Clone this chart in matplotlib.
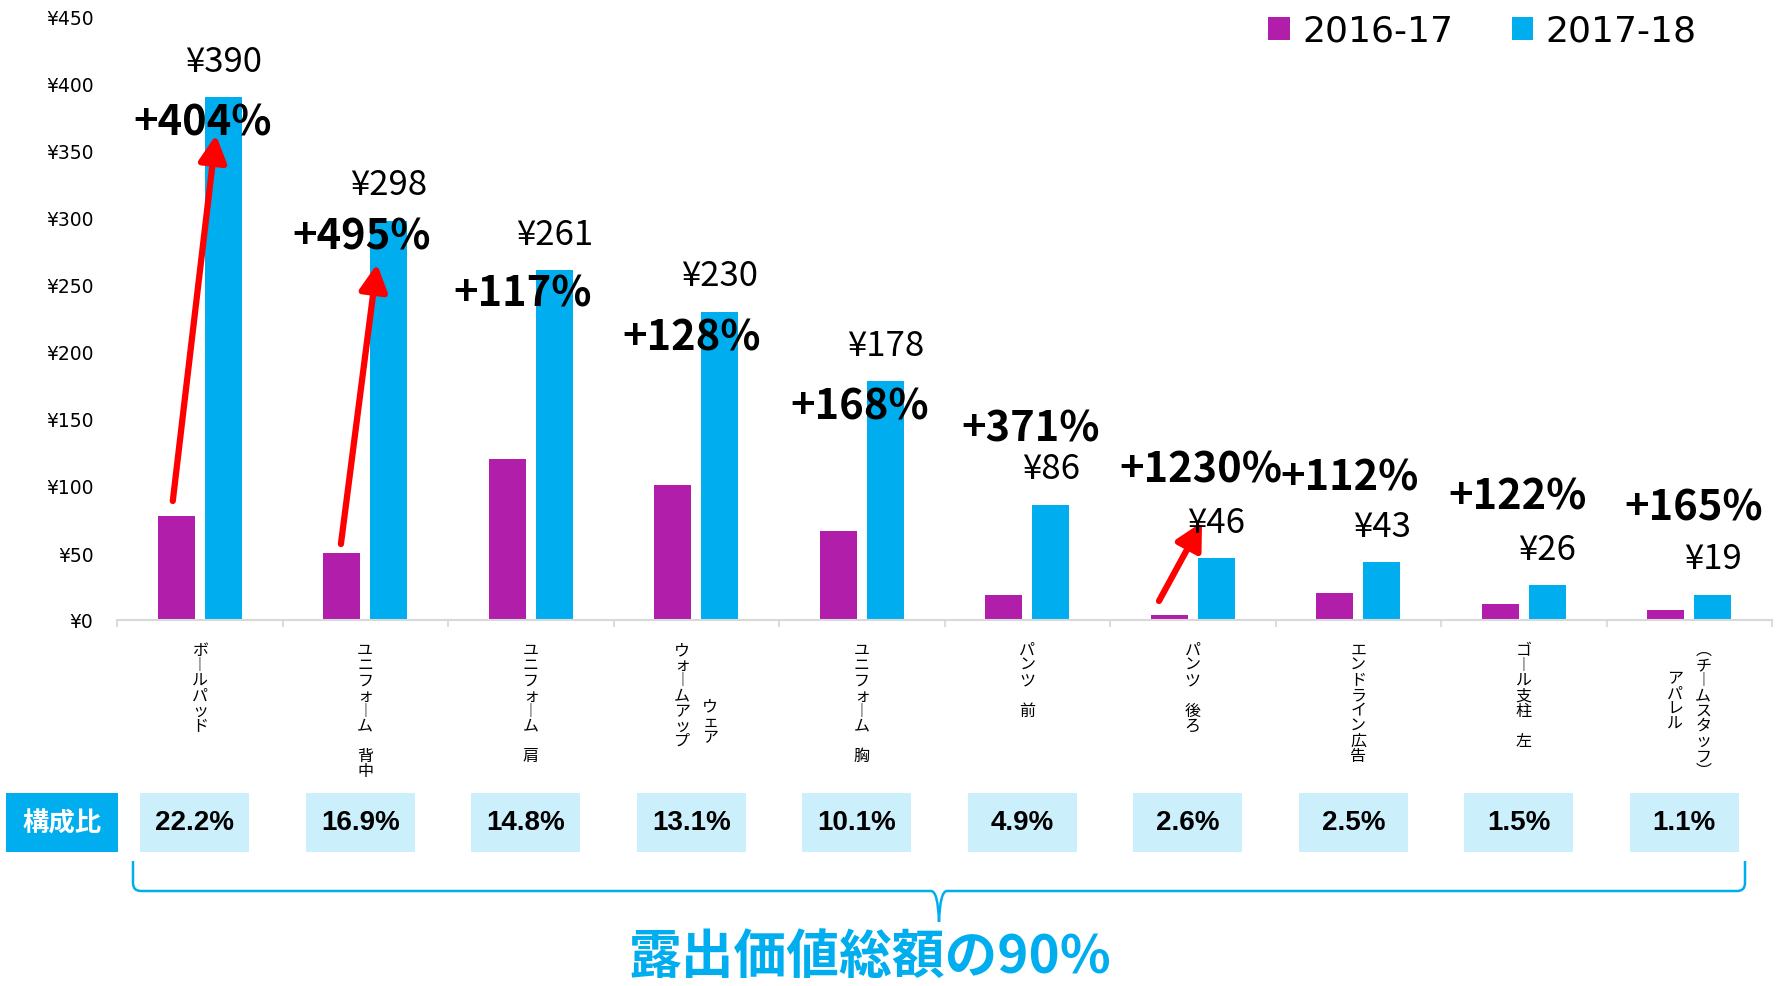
import numpy as np
import matplotlib
matplotlib.use("Agg")
import matplotlib.pyplot as plt
from matplotlib.patches import Rectangle, FancyArrowPatch, PathPatch
from matplotlib.path import Path
from matplotlib.ticker import StrMethodFormatter
from matplotlib.transforms import blended_transform_factory

plt.rcParams['font.family'] = ['Noto Sans CJK JP', 'DejaVu Sans']

# data
categories = ["ボールパッド", "ユニフォーム　背中", "ユニフォーム　肩", "ウォームアップ\nウェア",
              "ユニフォーム　胸", "パンツ　前", "パンツ　後ろ", "エンドライン広告",
              "ゴール支柱　左", "アパレル\n(チームスタッフ)"]
series = ["2016-17", "2017-18"]
value_1617 = [77.4, 50.1, 120.3, 100.9, 66.4, 18.3, 3.5, 20.3, 11.7, 7.2]
value_1718 = [390, 298, 261, 230, 178, 86, 46, 43, 26, 19]
growth = ["+404%", "+495%", "+117%", "+128%", "+168%", "+371%",
          "+1230%", "+112%", "+122%", "+165%"]
share = ["22.2%", "16.9%", "14.8%", "13.1%", "10.1%", "4.9%", "2.6%", "2.5%", "1.5%", "1.1%"]
share_title = "構成比"
footer = "露出価値総額の90%"

# layout
growth_y = [371, 286, 244, 211, 159, 143, 112, 106.5, 92, 83.6]
growth_dx = [0.015, -0.024, -0.05, -0.027, -0.011, 0.019, 0.049, -0.052, -0.037, 0.027]
arrows = [((-0.163, 88.8), (0.098, 362)),
          ((0.853, 56.7), (1.071, 265.7)),
          ((5.796, 14.2), (6.056, 73.1))]
col_skip = {3: [0, 4], 9: [2, 0]}

C1 = "#B01EAA"
C2 = "#00AEEF"
W, H = 1781, 987

fig = plt.figure(figsize=(W / 100, H / 100), dpi=100)
ax = fig.add_axes([117 / W, 1 - 621 / H, (1772 - 117) / W, (621 - 18) / H])

x = np.arange(len(categories))
bw = 0.224
b1 = ax.bar(x - 0.142, value_1617, bw, color=C1, label=series[0])
b2 = ax.bar(x + 0.142, value_1718, bw, color=C2, label=series[1])

ax.set_xlim(-0.5, len(categories) - 0.5)
ax.set_ylim(0, 450)
ax.set_yticks(np.arange(0, 451, 50))
ax.yaxis.set_major_formatter(StrMethodFormatter("¥{x:.0f}"))
ax.tick_params(axis='y', length=0, pad=17, labelsize=13.5)
for lb in ax.get_yticklabels():
    lb.set_family('DejaVu Sans')
ax.set_xticks(x)
ax.set_xticklabels([])
ax.tick_params(axis='x', which='major', length=0)
ax.set_xticks(np.arange(-0.5, len(categories)), minor=True)
ax.tick_params(axis='x', which='minor', length=5, width=1.3, color="#D9D9D9")
for s in ['left', 'top', 'right']:
    ax.spines[s].set_visible(False)
ax.spines['bottom'].set_color("#D9D9D9")
ax.spines['bottom'].set_linewidth(1.5)

# value labels above 2017-18 bars
for xi, v in zip(x, value_1718):
    ax.annotate(f"¥{v}", (xi + 0.142, v), xytext=(0, 26), textcoords='offset points',
                ha='center', va='center', fontsize=25)

# growth labels
for xi, g, gy, dx in zip(x, growth, growth_y, growth_dx):
    ax.text(xi + dx, gy, g, ha='center', va='center', fontsize=30, fontweight='bold')

for (x0, y0), (x1, y1) in arrows:
    ax.add_patch(FancyArrowPatch((x0, y0), (x1, y1), arrowstyle='-|>,head_length=0.8,head_width=0.42',
                                 mutation_scale=20, color='#FF0000', lw=4.5, shrinkA=0, shrinkB=0))

# vertical category labels
vert = {"ー": "︱", "(": "︵", ")": "︶"}
for i, lab in enumerate(categories):
    cols = lab.split("\n")
    offs = [0] if len(cols) == 1 else [-14, 14]
    skips = col_skip.get(i, [0] * len(cols))
    for col, dx, sk in zip(cols, offs, skips):
        txt = "\n".join(vert.get(c, c) for c in col)
        ax.annotate(txt, (i, 0), xytext=(dx * 0.72, -(21 + sk * 14.2) * 0.72),
                    textcoords='offset points', ha='center', va='top',
                    fontsize=11.5, linespacing=0.86, annotation_clip=False)

ax.legend(handles=[b1, b2], labels=series, ncol=2, frameon=False, loc='center right',
          bbox_to_anchor=(1697 / W, 1 - 32 / H), bbox_transform=fig.transFigure,
          prop={'family': 'DejaVu Sans', 'size': 26}, handlelength=0.6, handleheight=0.6,
          handletextpad=0.35, columnspacing=1.6, borderpad=0, borderaxespad=0)

# share row
tr = blended_transform_factory(ax.transData, fig.transFigure)
yb, hb = 1 - 853 / H, 59 / H
fig.patches.append(Rectangle((6 / W, yb), 112 / W, hb, transform=fig.transFigure,
                             color=C2, lw=0))
fig.text(62 / W, yb + hb / 2, share_title, color='white', fontsize=19, fontweight='bold',
         ha='center', va='center')
for xi, s in zip(x, share):
    ax.add_patch(Rectangle((xi - 0.03 - 0.33, yb), 0.66, hb, transform=tr,
                           color="#CCEFFC", lw=0, clip_on=False))
    ax.text(xi - 0.03, yb + hb / 2, s, transform=tr, ha='center', va='center',
            fontsize=20, fontweight='bold', family='Liberation Sans')

# brace
def fp(px, py):
    return (px / W, 1 - py / H)

verts = [fp(133, 862), fp(133, 884), fp(133, 892), fp(141, 892), fp(931, 892),
         fp(938, 892), fp(939, 923), fp(940, 892), fp(947, 892), fp(1737, 892),
         fp(1745, 892), fp(1745, 884), fp(1745, 862)]
codes = [Path.MOVETO, Path.LINETO, Path.CURVE3, Path.CURVE3, Path.LINETO,
         Path.CURVE3, Path.CURVE3, Path.CURVE3, Path.CURVE3, Path.LINETO,
         Path.CURVE3, Path.CURVE3, Path.LINETO]
fig.patches.append(PathPatch(Path(verts, codes), transform=fig.transFigure,
                             fill=False, edgecolor=C2, lw=1.8))

fig.text(870 / W, 1 - 957 / H, footer, color=C2, fontsize=38, fontweight='bold',
         ha='center', va='center')

fig.savefig("out.png", dpi=100)
